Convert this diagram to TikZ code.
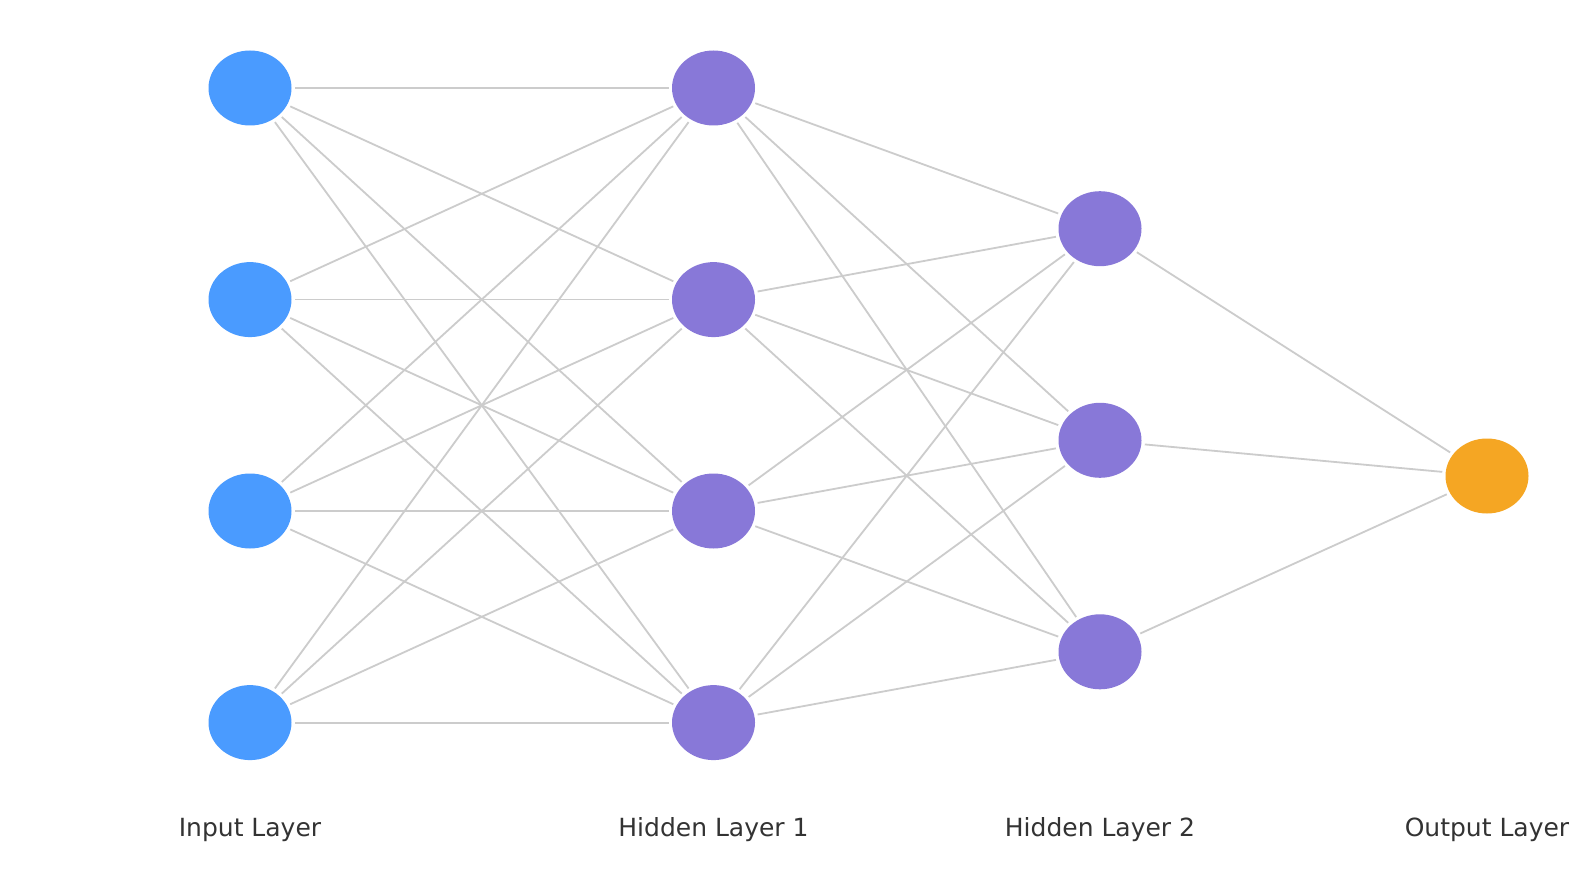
\documentclass[tikz,border=0pt]{standalone}
\usepackage{fontspec}
\setmainfont{DejaVu Sans}
\usetikzlibrary{shapes.geometric}
\definecolor{inblue}{HTML}{4A9BFF}
\definecolor{hidpurple}{HTML}{8878D8}
\definecolor{outorange}{HTML}{F5A623}
\definecolor{edgegray}{HTML}{CCCCCC}
\definecolor{labelgray}{HTML}{333333}
\tikzset{
  neuron/.style={ellipse, minimum width=83pt, minimum height=75pt, inner sep=0pt, outer sep=3.5pt, draw=none},
  inneuron/.style={neuron, fill=inblue},
  hidneuron/.style={neuron, fill=hidpurple},
  outneuron/.style={neuron, fill=outorange},
  edge/.style={draw=edgegray, line width=1.8pt},
  layerlabel/.style={text=labelgray, font=\fontsize{25}{30}\selectfont, anchor=base}
}
\begin{document}
\begin{tikzpicture}[x=1pt,y=-1pt]
\useasboundingbox (0,0) rectangle (1587,882);
\fill[white] (0,0) rectangle (1587,882);
% input layer
\node[inneuron] (i1) at (250,88) {};
\node[inneuron] (i2) at (250,299.6) {};
\node[inneuron] (i3) at (250,511) {};
\node[inneuron] (i4) at (250,722.6) {};
% hidden 1
\node[hidneuron] (a1) at (713.5,88) {};
\node[hidneuron] (a2) at (713.5,299.6) {};
\node[hidneuron] (a3) at (713.5,511) {};
\node[hidneuron] (a4) at (713.5,722.6) {};
% hidden 2
\node[hidneuron] (b1) at (1100,228.7) {};
\node[hidneuron] (b2) at (1100,440.3) {};
\node[hidneuron] (b3) at (1100,651.8) {};
% output
\node[outneuron] (o1) at (1487,476) {};
% edges
\foreach \s in {1,2,3,4}{
  \foreach \t in {1,2,3,4}{
    \draw[edge] (i\s) -- (a\t);
  }
}
\foreach \s in {1,2,3,4}{
  \foreach \t in {1,2,3}{
    \draw[edge] (a\s) -- (b\t);
  }
}
\foreach \s in {1,2,3}{
  \draw[edge] (b\s) -- (o1);
}
% labels
\node[layerlabel] (l1) at (250,836) {Input Layer};
\node[layerlabel] (l2) at (713.5,836) {Hidden Layer 1};
\node[layerlabel] (l3) at (1100,836) {Hidden Layer 2};
\node[layerlabel] (l4) at (1487,836) {Output Layer};
\end{tikzpicture}
\end{document}
